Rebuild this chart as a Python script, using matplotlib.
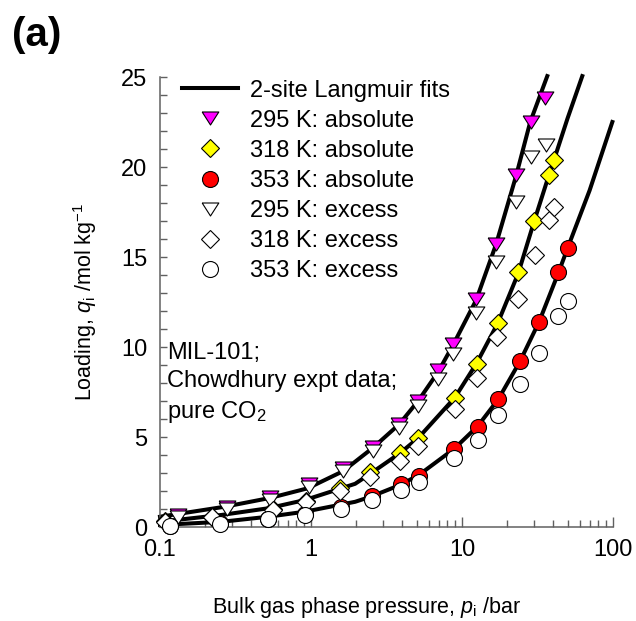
import numpy as np
import matplotlib.pyplot as plt
from matplotlib.lines import Line2D
from matplotlib.ticker import MultipleLocator, LogLocator, NullFormatter

plt.rcParams['font.family'] = ['Liberation Sans', 'DejaVu Sans']
plt.rcParams['mathtext.fontset'] = 'custom'
plt.rcParams['mathtext.rm'] = 'Liberation Sans'
plt.rcParams['mathtext.it'] = 'Liberation Sans:italic'

# 295 K data
p295_abs = [0.132, 0.278, 0.535, 0.97, 1.64, 2.59, 3.85, 5.14, 6.97, 8.78, 12.3, 16.7, 22.7, 28.5, 35.5]
q295_abs = [0.68, 1.12, 1.65, 2.40, 3.28, 4.45, 5.75, 7.00, 8.70, 10.15, 12.69, 15.73, 19.55, 22.52, 23.85]
p295_ex = [0.132, 0.278, 0.535, 0.97, 1.64, 2.59, 3.85, 5.14, 6.97, 8.77, 12.4, 16.7, 22.7, 28.5, 35.9]
q295_ex = [0.57, 0.98, 1.50, 2.25, 3.10, 4.22, 5.52, 6.72, 8.24, 9.63, 11.88, 14.71, 18.03, 20.53, 21.21]

# 318 K data
p318_abs = [0.108, 0.22, 0.56, 0.93, 1.56, 2.46, 3.88, 5.14, 8.99, 12.5, 17.2, 23.6, 30.1, 37.8, 40.7]
q318_abs = [0.32, 0.58, 0.98, 1.45, 2.17, 3.05, 4.12, 4.92, 7.19, 9.07, 11.32, 14.15, 16.98, 19.57, 20.40]
p318_ex = [0.108, 0.22, 0.56, 0.93, 1.56, 2.46, 3.88, 5.14, 8.99, 12.5, 17.0, 23.4, 30.6, 37.8, 40.7]
q318_ex = [0.30, 0.55, 0.92, 1.38, 2.02, 2.80, 3.66, 4.51, 6.58, 8.28, 10.55, 12.68, 15.12, 17.06, 17.76]

# 353 K data
p353_abs = [0.116, 0.25, 0.52, 0.913, 1.58, 2.52, 3.93, 5.2, 8.89, 12.7, 17.4, 24.2, 32.4, 43.4, 50.6]
q353_abs = [0.05, 0.20, 0.47, 0.72, 1.12, 1.70, 2.40, 2.85, 4.35, 5.56, 7.10, 9.20, 11.38, 14.15, 15.48]
p353_ex = [0.116, 0.25, 0.52, 0.913, 1.58, 2.52, 3.93, 5.2, 8.89, 12.7, 17.4, 24.2, 32.4, 43.4, 50.6]
q353_ex = [0.03, 0.17, 0.42, 0.65, 1.02, 1.50, 2.05, 2.51, 3.81, 4.86, 6.21, 7.97, 9.66, 11.71, 12.58]

# 2-site Langmuir fit curves
pfit295 = [0.1, 0.27, 0.54, 0.95, 1.63, 2.57, 3.83, 5.12, 6.93, 8.71, 12.4, 16.8, 22.8, 28.3, 36.7]
qfit295 = [0.57, 1.13, 1.62, 2.15, 3.1, 4.4, 5.7, 7.0, 8.6, 10.1, 12.6, 15.7, 19.5, 22.5, 25.05]
pfit318 = [0.1, 0.256, 0.52, 0.913, 1.96, 2.46, 3.88, 5.14, 8.99, 12.5, 17.2, 23.6, 30.1, 37.8, 40.7, 50.0, 62.6]
qfit318 = [0.29, 0.67, 1.04, 1.50, 2.40, 2.95, 4.10, 4.95, 7.2, 9.1, 11.3, 14.1, 17.0, 19.6, 20.4, 22.7, 25.05]
pfit353 = [0.1, 0.256, 0.52, 0.91, 1.96, 2.52, 3.93, 5.2, 8.89, 12.7, 17.4, 24.2, 32.4, 43.4, 50.6, 70.0, 99.0]
qfit353 = [0.11, 0.29, 0.57, 0.85, 1.40, 1.70, 2.35, 2.9, 4.35, 5.6, 7.1, 9.2, 11.4, 14.1, 15.6, 18.7, 22.5]

tri = [(-1, 0.78), (1, 0.78), (0, -0.78), (-1, 0.78)]
ms_tri, ms_dia, ms_cir = 12, 9.3, 11.5
mew = 0.8

fig = plt.figure(figsize=(6.36, 6.21), dpi=100)
ax = fig.add_axes([160/636, 94/621, 453/636, 450/621])

for p, q in [(pfit295, qfit295), (pfit318, qfit318), (pfit353, qfit353)]:
    ax.plot(p, q, color='black', lw=2.9, zorder=2, clip_on=False)

ax.plot(p295_abs, q295_abs, ls='none', marker=tri, ms=ms_tri, mfc='#ff00ff', mec='black', mew=mew, zorder=3, clip_on=False)
ax.plot(p318_abs, q318_abs, ls='none', marker='D', ms=ms_dia, mfc='#ffff00', mec='black', mew=mew, zorder=3, clip_on=False)
ax.plot(p353_abs, q353_abs, ls='none', marker='o', ms=ms_cir, mfc='#ff0000', mec='black', mew=mew, zorder=3, clip_on=False)
ax.plot(p295_ex, q295_ex, ls='none', marker=tri, ms=ms_tri, mfc='white', mec='black', mew=mew, zorder=4, clip_on=False)
ax.plot(p318_ex, q318_ex, ls='none', marker='D', ms=ms_dia, mfc='white', mec='black', mew=mew, zorder=4, clip_on=False)
ax.plot(p353_ex, q353_ex, ls='none', marker='o', ms=ms_cir, mfc='white', mec='black', mew=mew, zorder=4, clip_on=False)

ax.set_xscale('log')
ax.set_xlim(0.1, 100)
ax.set_ylim(0, 25)
ax.set_xticks([0.1, 1, 10, 100])
ax.set_xticklabels(['0.1', '1', '10', '100'])
ax.xaxis.set_minor_locator(LogLocator(base=10, subs=np.arange(2, 10)))
ax.xaxis.set_minor_formatter(NullFormatter())
ax.yaxis.set_major_locator(MultipleLocator(5))
ax.yaxis.set_minor_locator(MultipleLocator(1))

for s in ['top', 'right']:
    ax.spines[s].set_visible(False)
for s in ['left', 'bottom']:
    ax.spines[s].set_color('#606060')
    ax.spines[s].set_linewidth(1.1)

ax.tick_params(which='both', direction='in', color='#606060', width=1.0, labelsize=17, pad=9)
ax.tick_params(axis='x', which='major', length=7)
ax.tick_params(axis='x', which='minor', length=5)
ax.tick_params(axis='y', which='both', length=5)

ax.set_xlabel(r'Bulk gas phase pressure, $p_\mathrm{i}$ /bar', fontsize=15.5)
ax.xaxis.set_label_coords(0.455, -0.152)
ax.set_ylabel(r'Loading, $q_\mathrm{i}$ /mol kg$^{-1}$', fontsize=15.5)
ax.yaxis.set_label_coords(-0.135, 0.5)

ax.text(0.015, 0.412, 'MIL-101;\nChowdhury expt data;\npure CO$_2$', transform=ax.transAxes,
        fontsize=17, ha='left', va='top', linespacing=1.38)

handles = [
    Line2D([], [], color='black', lw=2.9),
    Line2D([], [], ls='none', marker=tri, ms=ms_tri, mfc='#ff00ff', mec='black', mew=mew),
    Line2D([], [], ls='none', marker='D', ms=ms_dia, mfc='#ffff00', mec='black', mew=mew),
    Line2D([], [], ls='none', marker='o', ms=ms_cir, mfc='#ff0000', mec='black', mew=mew),
    Line2D([], [], ls='none', marker=tri, ms=ms_tri, mfc='white', mec='black', mew=mew),
    Line2D([], [], ls='none', marker='D', ms=ms_dia, mfc='white', mec='black', mew=mew),
    Line2D([], [], ls='none', marker='o', ms=ms_cir, mfc='white', mec='black', mew=mew),
]
labels = ['2-site Langmuir fits', '295 K: absolute', '318 K: absolute', '353 K: absolute',
          '295 K: excess', '318 K: excess', '353 K: excess']
ax.legend(handles, labels, loc='upper left', bbox_to_anchor=(0.048, 0.994), frameon=False,
          fontsize=17, handlelength=2.4, handletextpad=0.5, labelspacing=0.34,
          borderpad=0, borderaxespad=0)

fig.text(12/636, 1 - 35/621, '(a)', fontsize=29, fontweight='bold', ha='left', va='center')

fig.savefig('out.png', dpi=100)
